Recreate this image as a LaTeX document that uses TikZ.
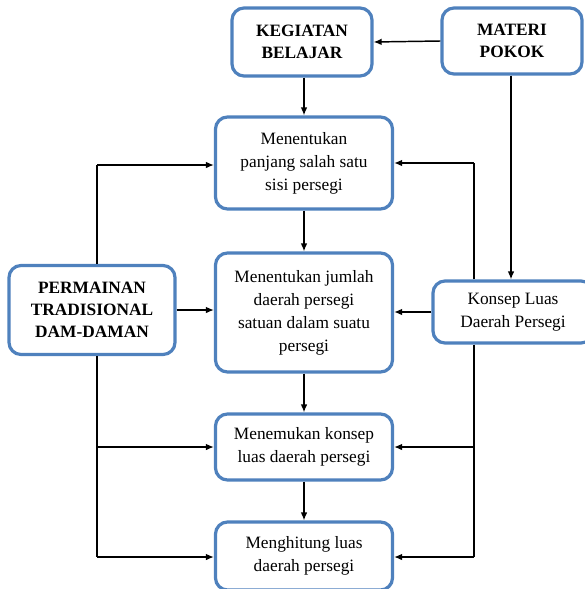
\documentclass[tikz,border=0pt]{standalone}
\usepackage{fontspec}
\setmainfont{Liberation Serif}
\usepackage{tikz}
\usetikzlibrary{arrows.meta,positioning,calc}
\definecolor{boxblue}{RGB}{79,129,189}

\begin{document}
\begin{tikzpicture}[
  x=0.75pt, y=-0.75pt,
  font=\fontsize{13}{17.3}\selectfont,
  box/.style={draw=boxblue, line width=2.4pt, rounded corners=9pt, align=center,
              inner sep=2pt, fill=white},
  stepbox/.style={box, minimum width=132.75pt},
  head/.style={box, font=\fontsize{13}{16.5}\selectfont\bfseries},
  flow/.style={line width=1.1pt, -{Latex[length=6pt,width=5pt]}},
  line/.style={line width=1.1pt}
]

\def\xMid{304}
\def\xL{97}
\def\xR{474}
\def\xMat{511}

\useasboundingbox (0,0) rectangle (585,589);

% ------------------------
% Top boxes
% ------------------------
\node[head, minimum width=105pt, minimum height=51pt] (kegiatan) at (302,42)
  {KEGIATAN\\BELAJAR};
\node[head, minimum width=105pt, minimum height=49.5pt] (materi) at (512,41)
  {MATERI\\POKOK};

% Steps (middle column)
\node[stepbox, minimum height=69pt] (step1) at (\xMid,163)
  {Menentukan\\panjang salah satu\\sisi persegi};
\node[stepbox, minimum height=89.25pt] (step2) at (\xMid,312.5)
  {Menentukan jumlah\\daerah persegi\\satuan dalam suatu\\persegi};
\node[stepbox, minimum height=49.5pt] (step3) at (\xMid,447)
  {Menemukan konsep\\luas daerah persegi};
\node[stepbox, minimum height=51pt] (step4) at (\xMid,556)
  {Menghitung luas\\daerah persegi};

% Side boxes
\node[head, minimum width=124.5pt, minimum height=66.75pt] (permainan) at (92,310)
  {PERMAINAN\\TRADISIONAL\\DAM-DAMAN};
\node[box, minimum width=120pt, minimum height=46.5pt] (konsep) at (513,312)
  {Konsep Luas\\Daerah Persegi};

% ------------------------
% Main flow
% ------------------------
\draw[flow] (materi.west) -- (kegiatan.east);
\draw[flow] (kegiatan.south -| step1.north) -- (step1.north);
\draw[flow] (step1) -- (step2);
\draw[flow] (step2) -- (step3);
\draw[flow] (step3) -- (step4);
\draw[flow] (materi.south -| \xMat,0) -- (konsep.north -| \xMat,0);
\draw[flow] (permainan.east) -- (permainan.east -| step2.west);
\draw[flow] (konsep.west) -- (konsep.west -| step2.east);

% Left trunk (permainan)
\coordinate (lTop) at (\xL,165);
\coordinate (lMid) at (\xL,447);
\coordinate (lBot) at (\xL,557);
\draw[line] (lTop |- permainan.north) -- (lTop);
\draw[flow] (lTop) -- (lTop -| step1.west);
\draw[line] (lTop |- permainan.south) -- (lBot);
\draw[flow] (lMid) -- (lMid -| step3.west);
\draw[flow] (lBot) -- (lBot -| step4.west);

% Right trunk (konsep)
\coordinate (rTop) at (\xR,163);
\coordinate (rMid) at (\xR,447);
\coordinate (rBot) at (\xR,557);
\draw[line] (rTop |- konsep.north) -- (rTop);
\draw[flow] (rTop) -- (rTop -| step1.east);
\draw[line] (rTop |- konsep.south) -- (rBot);
\draw[flow] (rMid) -- (rMid -| step3.east);
\draw[flow] (rBot) -- (rBot -| step4.east);

\end{tikzpicture}
\end{document}
